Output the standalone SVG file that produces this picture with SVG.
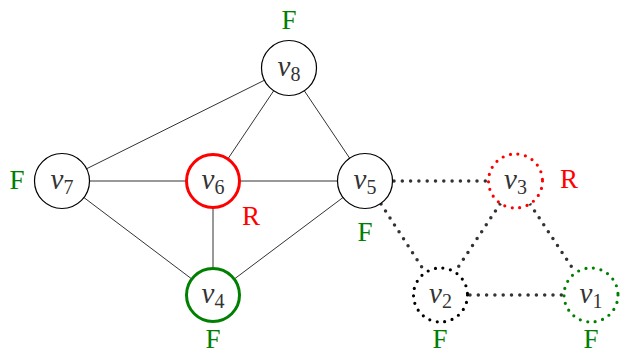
<svg xmlns="http://www.w3.org/2000/svg" width="621" height="355" viewBox="0 0 621 355">
<style>
.e{stroke:#333;stroke-width:1;fill:none}
.d{stroke:#333;stroke-width:3.5;stroke-dasharray:0 8.3;stroke-linecap:round;fill:none}
.n{fill:#fff;stroke:#000;stroke-width:1.2}
.nd{fill:#fff;stroke-width:3.2;stroke-dasharray:0 7.6;stroke-linecap:round}
.t{font-family:'Liberation Serif','DejaVu Serif',serif;font-style:italic;font-size:29px;fill:#333;text-anchor:middle}
.s{font-style:normal;font-size:20px}
.l{font-family:'Liberation Serif','DejaVu Serif',serif;font-size:27px;text-anchor:middle}
.g{fill:#008000}
.r{fill:#f00}
</style>
<rect width="621" height="355" fill="#fff"/>
<g id="connectors">
<line class="e" x1="289" y1="68" x2="62" y2="181"/>
<line class="e" x1="289" y1="68" x2="213" y2="181"/>
<line class="e" x1="289" y1="68" x2="365" y2="181"/>
<line class="e" x1="62" y1="181" x2="365" y2="181"/>
<line class="e" x1="62" y1="181" x2="213" y2="295"/>
<line class="e" x1="213" y1="181" x2="213" y2="295"/>
<line class="e" x1="365" y1="181" x2="213" y2="295"/>
<line class="d" x1="394" y1="181" x2="487" y2="181"/>
<line class="d" x1="381" y1="204" x2="425" y2="272"/>
<line class="d" x1="500" y1="204" x2="455" y2="272"/>
<line class="d" x1="530" y1="204" x2="575" y2="272"/>
<line class="d" x1="470" y1="295" x2="562" y2="295"/>
</g>
<g id="v8"><circle class="n" cx="289" cy="68" r="27.5"/><text class="t" x="289" y="76">v<tspan class="s" dy="5">8</tspan></text></g>
<g id="v7"><circle class="n" cx="62" cy="181" r="27.5"/><text class="t" x="62" y="189">v<tspan class="s" dy="5">7</tspan></text></g>
<g id="v6"><circle class="n" cx="213" cy="181" r="26.5" style="stroke:#f00;stroke-width:3"/><text class="t" x="213" y="189">v<tspan class="s" dy="5">6</tspan></text></g>
<g id="v5"><circle class="n" cx="365" cy="181" r="27.5"/><text class="t" x="365" y="189">v<tspan class="s" dy="5">5</tspan></text></g>
<g id="v4"><circle class="n" cx="213" cy="295" r="26.5" style="stroke:#008000;stroke-width:3"/><text class="t" x="213" y="303">v<tspan class="s" dy="5">4</tspan></text></g>
<g id="v3"><circle class="nd" cx="515.5" cy="181" r="27" stroke="#f00"/><text class="t" x="515.5" y="189">v<tspan class="s" dy="5">3</tspan></text></g>
<g id="v2"><circle class="nd" cx="440.5" cy="295" r="27" stroke="#000"/><text class="t" x="440.5" y="303">v<tspan class="s" dy="5">2</tspan></text></g>
<g id="v1"><circle class="nd" cx="591" cy="295" r="27" stroke="#008000"/><text class="t" x="591" y="303">v<tspan class="s" dy="5">1</tspan></text></g>
<g id="labels">
<text class="l g" x="289" y="29">F</text>
<text class="l g" x="17" y="189">F</text>
<text class="l r" x="251" y="225">R</text>
<text class="l g" x="365" y="241">F</text>
<text class="l r" x="569" y="188">R</text>
<text class="l g" x="213" y="348">F</text>
<text class="l g" x="440" y="348">F</text>
<text class="l g" x="591" y="348">F</text>
</g>
</svg>
